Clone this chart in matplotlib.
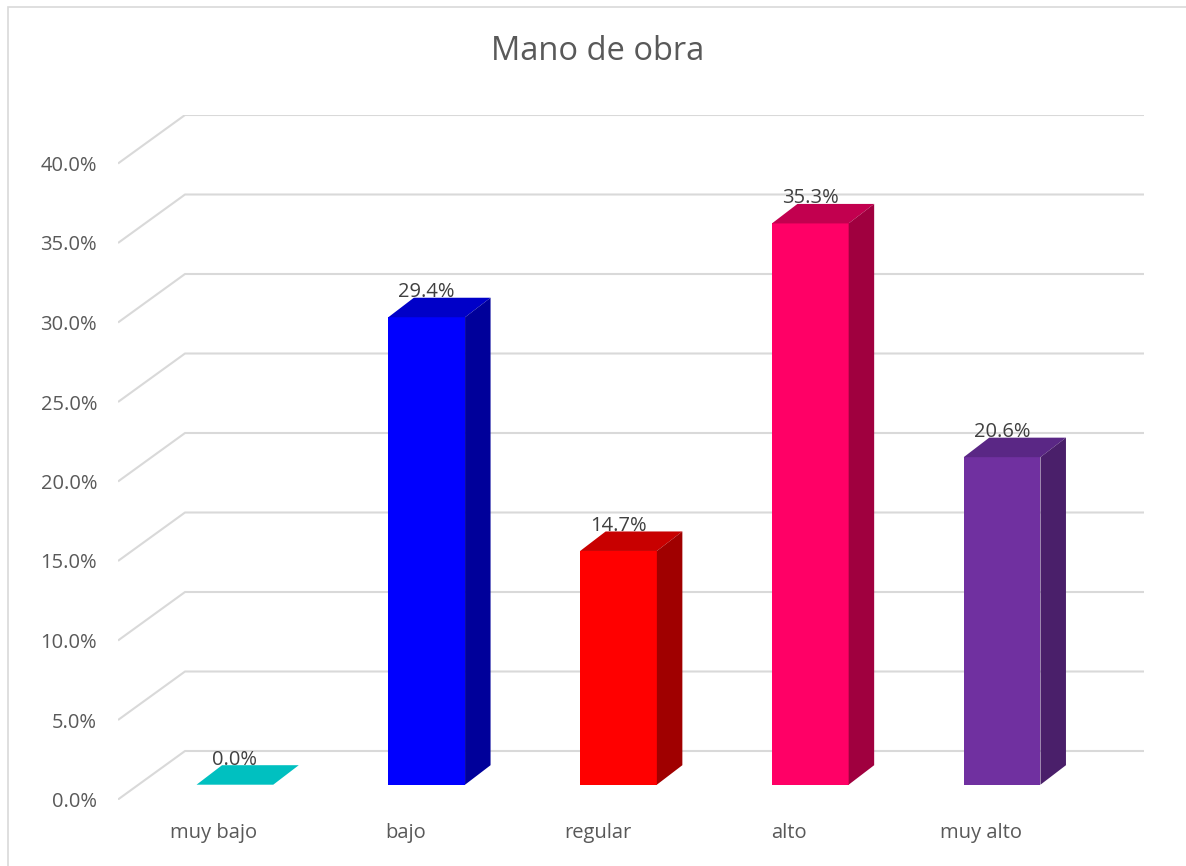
import matplotlib
matplotlib.use("Agg")
import matplotlib.pyplot as plt
from matplotlib.patches import Polygon, Rectangle
import numpy as np

categories = ["muy bajo", "bajo", "regular", "alto", "muy alto"]
values = [0.0, 29.4, 14.7, 35.3, 20.6]
value_labels = ["0.0%", "29.4%", "14.7%", "35.3%", "20.6%"]
yticks = [0, 5, 10, 15, 20, 25, 30, 35, 40]
ytick_labels = ["0.0%", "5.0%", "10.0%", "15.0%", "20.0%", "25.0%", "30.0%", "35.0%", "40.0%"]
title = "Mano de obra"

front_colors = ["#00C0C0", "#0000FF", "#FF0000", "#FF0066", "#7030A0"]
top_colors = ["#00C0C0", "#0000C8", "#C80000", "#C2004F", "#5A2785"]
side_colors = ["#008A8A", "#00009A", "#A00000", "#A0003F", "#4A1F6A"]

plt.rcParams['font.family'] = ['Open Sans', 'DejaVu Sans']

W, H = 1186, 866
fig = plt.figure(figsize=(W / 100, H / 100), dpi=100)

# pixel geometry
px_left, px_right = 118, 1144
px_zero, px_per_pct = 799.5, 15.9
wall_dx_px, wall_dy_px = 67, 48.5
cat_px = (px_right - wall_dx_px - px_left) / len(categories)
DX = wall_dx_px / cat_px
DY = wall_dy_px / px_per_pct
ytop = 40 + DY
px_top = px_zero - ytop * px_per_pct

ax = fig.add_axes([px_left / W, (H - px_zero) / H, (px_right - px_left) / W, (px_zero - px_top) / H])
ax.set_xlim(-0.5, len(categories) - 0.5 + DX)
ax.set_ylim(0, ytop)
for s in ax.spines.values():
    s.set_visible(False)

grid_c = "#D9D9D9"
x0 = -0.5
x1 = len(categories) - 0.5 + DX
for v in yticks:
    ax.plot([x0, x0 + DX, x1], [v, v + DY, v + DY], color=grid_c, lw=1.5, zorder=1, solid_capstyle='butt')

# bars
BX = 21 / cat_px
BY = 14.8 / px_per_pct
bw = 0.40
bdx = 25.5 / cat_px
bdy = 19.5 / px_per_pct
xs = np.arange(len(categories))
ax.bar(xs + BX, values, width=bw, bottom=BY, color=front_colors, zorder=3, linewidth=0)
for i, v in enumerate(values):
    xl = xs[i] + BX - bw / 2
    xr = xs[i] + BX + bw / 2
    top = Polygon([(xl, v + BY), (xr, v + BY), (xr + bdx, v + BY + bdy), (xl + bdx, v + BY + bdy)],
                  closed=True, facecolor=top_colors[i], edgecolor='none', zorder=3)
    ax.add_patch(top)
    if v > 0:
        side = Polygon([(xr, BY), (xr, v + BY), (xr + bdx, v + BY + bdy), (xr + bdx, BY + bdy)],
                       closed=True, facecolor=side_colors[i], edgecolor='none', zorder=3)
        ax.add_patch(side)
    ax.annotate(value_labels[i], (xs[i] + BX, v + BY + bdy), xytext=(0, 4), textcoords='offset points',
                ha='center', va='center', fontsize=14.5, color="#404040", zorder=5)

ax.set_xticks(xs)
ax.set_xticklabels(categories, fontsize=14.5, color="#595959")
ax.set_yticks(yticks)
ax.set_yticklabels(ytick_labels, fontsize=14.5, color="#595959")
ax.tick_params(axis='x', length=0, pad=17)
ax.tick_params(axis='y', length=0, pad=15)

fig.text(598 / W, 1 - 51 / H, title, ha='center', va='center', fontsize=23.5, color="#595959")

fig.add_artist(Rectangle((8 / W, -0.02), 1.05, (H - 7) / H + 0.02, transform=fig.transFigure,
                         fill=False, edgecolor="#D9D9D9", lw=1.2))

fig.savefig("out.png", dpi=100)
